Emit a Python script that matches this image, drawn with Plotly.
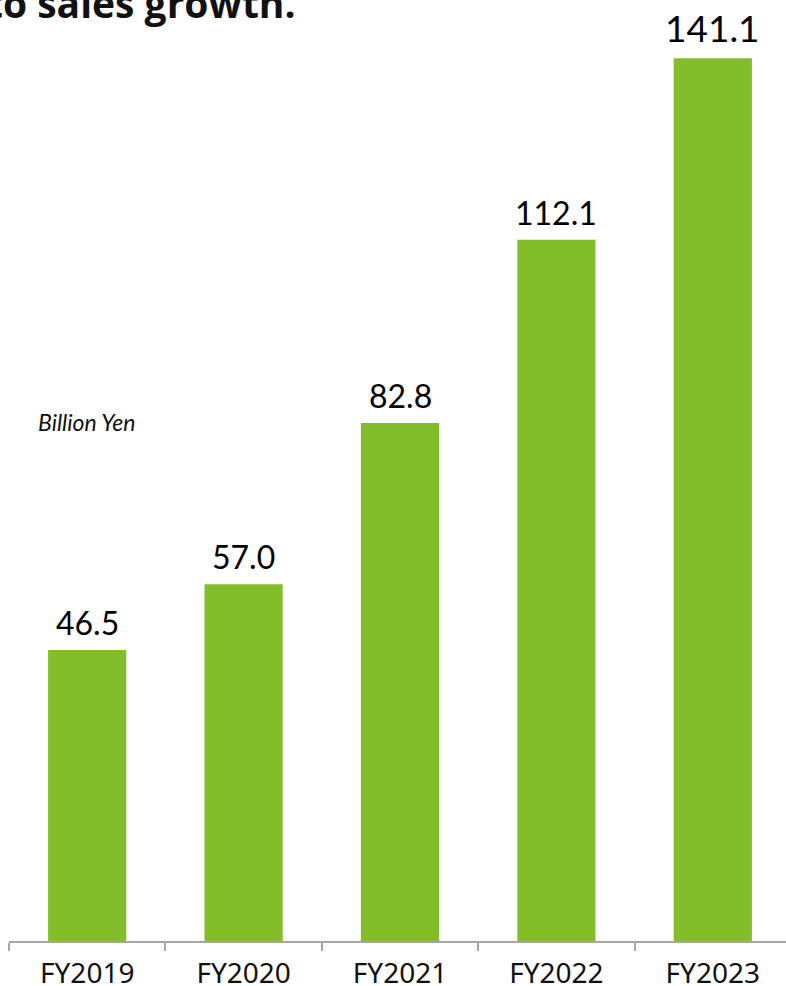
import plotly.graph_objects as go

# Net sales by fiscal year (billion yen)
years = ["FY2019", "FY2020", "FY2021", "FY2022", "FY2023"]
sales = [46.5, 57.0, 82.8, 112.1, 141.1]
label_sizes = [32, 32, 32, 32, 37]

BAR_GREEN = "#84BD2A"
AXIS_GREY = "#A6A6A6"

fig = go.Figure(
    go.Bar(
        x=years,
        y=sales,
        marker=dict(color=BAR_GREEN, line=dict(width=0)),
        hoverinfo="skip",
    )
)

# value labels above each bar
for yr, v, fs in zip(years, sales, label_sizes):
    fig.add_annotation(
        x=yr, y=v, xref="x", yref="y",
        text=f"{v:.1f}",
        showarrow=False,
        yanchor="bottom",
        yshift=6,
        font=dict(family="Lato", size=fs, color="#000000"),
    )

# headline (runs off the top-left edge of the page)
fig.add_annotation(
    x=(298 - 9) / 782, y=1, xref="paper", yref="paper",
    text="<b>to sales growth.</b>",
    showarrow=False,
    xanchor="right", yanchor="top",
    yshift=26,
    font=dict(family="Open Sans", size=39, color="#111111"),
)

# unit note
fig.add_annotation(
    x=(36 - 9) / 782, y=(941 - 422) / 941, xref="paper", yref="paper",
    text="<i>Billion Yen</i>",
    showarrow=False,
    xanchor="left", yanchor="middle",
    font=dict(family="Lato", size=23, color="#111111"),
)

fig.update_layout(
    width=792,
    height=986,
    margin=dict(l=9, r=1, t=0, b=45, autoexpand=False),
    paper_bgcolor="white",
    plot_bgcolor="white",
    bargap=0.5,
    showlegend=False,
    xaxis=dict(
        automargin=False,
        showline=True,
        linecolor=AXIS_GREY,
        linewidth=1.5,
        ticks="outside",
        tickson="boundaries",
        ticklen=8,
        tickcolor=AXIS_GREY,
        tickwidth=1.5,
        ticklabelstandoff=7,
        tickfont=dict(family="Noto Sans", size=28, color="#111111"),
        showgrid=False,
        fixedrange=True,
    ),
    yaxis=dict(
        automargin=False,
        range=[0, 150.4],
        visible=False,
        showgrid=False,
        zeroline=False,
        fixedrange=True,
    ),
)

fig.write_html("out.html")
